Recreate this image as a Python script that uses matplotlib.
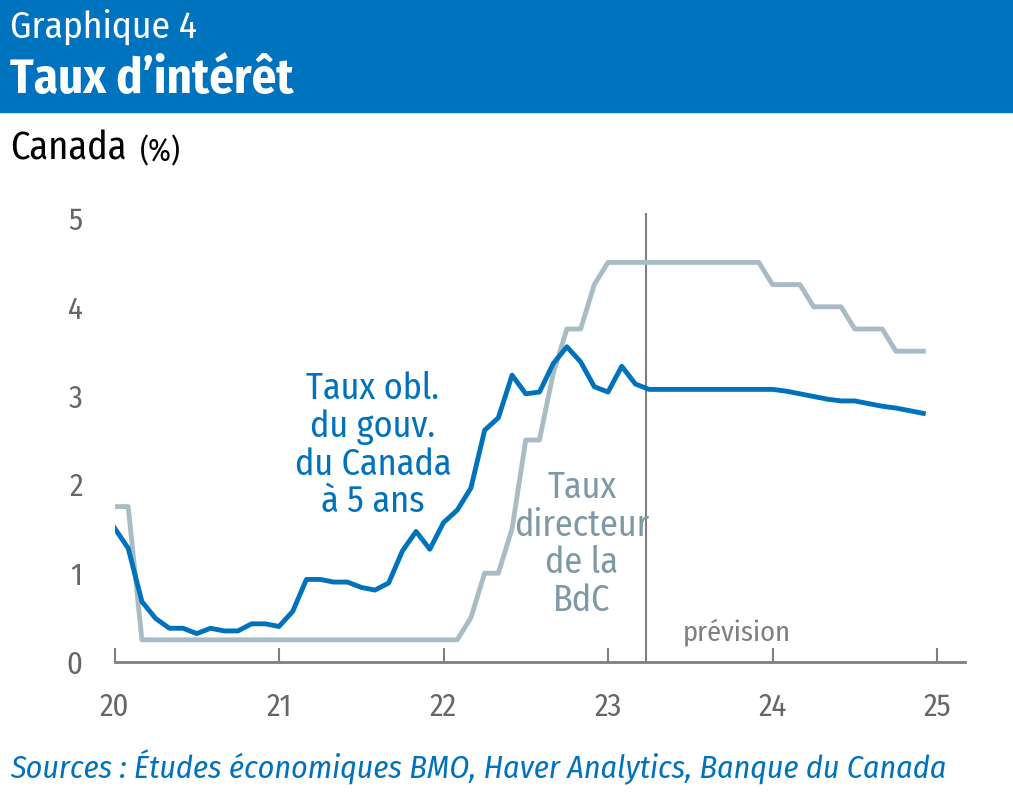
import matplotlib
matplotlib.use("Agg")
import matplotlib.pyplot as plt
from matplotlib.patches import Rectangle
from matplotlib import font_manager
import numpy as np

names = {f.name for f in font_manager.fontManager.ttflist}
FONT = "DejaVu Sans"
for cand in ["Fira Sans Condensed", "Roboto Condensed", "Open Sans Condensed",
             "PT Sans Narrow", "Asap Condensed", "Barlow Condensed", "Archivo Narrow"]:
    if cand in names:
        FONT = cand
        break
plt.rcParams['font.family'] = [FONT, 'DejaVu Sans']

# Monthly data, Jan 2020 .. Dec 2024 (x = 20 + month/12)
months = np.arange(60)
bond_5y = [1.51, 1.28, 0.68, 0.49, 0.38, 0.38, 0.32, 0.38, 0.35, 0.35, 0.43, 0.43,
           0.40, 0.57, 0.93, 0.93, 0.90, 0.90, 0.84, 0.81, 0.89, 1.25, 1.47, 1.27,
           1.57, 1.71, 1.96, 2.61, 2.75, 3.23, 3.02, 3.04, 3.36, 3.55, 3.38, 3.10,
           3.04, 3.33, 3.13, 3.07, 3.07, 3.07, 3.07, 3.07, 3.07, 3.07, 3.07, 3.07,
           3.07, 3.05, 3.02, 2.99, 2.96, 2.94, 2.94, 2.91, 2.88, 2.86, 2.83, 2.80]
policy = [1.75, 1.75, 0.25, 0.25, 0.25, 0.25, 0.25, 0.25, 0.25, 0.25, 0.25, 0.25,
          0.25, 0.25, 0.25, 0.25, 0.25, 0.25, 0.25, 0.25, 0.25, 0.25, 0.25, 0.25,
          0.25, 0.25, 0.50, 1.00, 1.00, 1.50, 2.50, 2.50, 3.25, 3.75, 3.75, 4.25,
          4.50, 4.50, 4.50, 4.50, 4.50, 4.50, 4.50, 4.50, 4.50, 4.50, 4.50, 4.50,
          4.25, 4.25, 4.25, 4.00, 4.00, 4.00, 3.75, 3.75, 3.75, 3.50, 3.50, 3.50]
x_ticks = [20, 21, 22, 23, 24, 25]
y_ticks = [0, 1, 2, 3, 4, 5]
forecast_start = 23.23

BLUE = "#0072BC"
GRAY_LINE = "#A9BCC5"
GRAY_TEXT = "#7F98A5"
AX_GRAY = "#7F7F7F"

fig = plt.figure(figsize=(10.13, 7.92), dpi=100)
W, H = 1013, 792
# header band
fig.patches.append(Rectangle((0, 1 - 112 / H), 1, 112 / H, transform=fig.transFigure,
                             color="#0073BE", zorder=0))
fig.text(10 / W, 1 - 27 / H, "Graphique 4", color="white", fontsize=27,
         va="center", ha="left")
fig.text(10 / W, 1 - 80 / H, "Taux d\u2019intérêt", color="white", fontsize=35,
         fontweight="bold", va="center", ha="left")
fig.text(10 / W, 1 - 149 / H, "Canada", color="black", fontsize=27.5, va="center", ha="left")
fig.text(140 / W, 1 - 152 / H, "(%)", color="black", fontsize=22, va="center", ha="left")
fig.text(10 / W, 1 - 767 / H, "Sources : Études économiques BMO, Haver Analytics, Banque du Canada",
         color=BLUE, fontsize=23, style="italic", va="center", ha="left")

ax = fig.add_axes([114.5 / W, 1 - 662 / H, (965 - 114.5) / W, (662 - 213) / H])
x = 20 + months / 12.0
ax.plot(x, policy, color=GRAY_LINE, lw=3.5, zorder=2)
ax.plot(x, bond_5y, color=BLUE, lw=3.5, zorder=3)
ax.axvline(forecast_start, color=AX_GRAY, lw=1.5, zorder=1)

ax.set_xlim(20, 25.17)
ax.set_ylim(0, (662 - 213) / 88.8)
for s in ["top", "right", "left"]:
    ax.spines[s].set_visible(False)
ax.spines["bottom"].set_color(AX_GRAY)
ax.spines["bottom"].set_linewidth(2)
ax.set_xticks(x_ticks)
ax.set_xticklabels([str(t) for t in x_ticks])
ax.set_yticks(y_ticks)
ax.set_yticklabels([str(t) for t in y_ticks])
ax.tick_params(axis="x", direction="in", length=10, width=1.5, color=AX_GRAY,
               labelsize=22, labelcolor="#666666", pad=22)
ax.tick_params(axis="y", length=0, labelsize=22, labelcolor="#666666", pad=23)
ax.patch.set_alpha(0)

ax.text(21.57, 2.44, "Taux obl.\ndu gouv.\ndu Canada\nà 5 ans", color=BLUE, fontsize=26,
        ha="center", va="center", linespacing=1.07)
ax.text(22.84, 1.33, "Taux\ndirecteur\nde la\nBdC", color=GRAY_TEXT, fontsize=26,
        ha="center", va="center", linespacing=1.07)
ax.text(23.456, 0.34, "prévision", color=AX_GRAY, fontsize=20.5, ha="left", va="center")

fig.savefig("out.png", dpi=100)
